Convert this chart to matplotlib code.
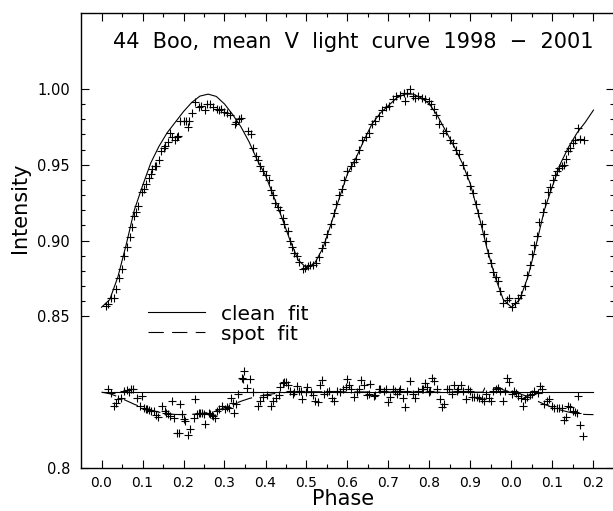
import matplotlib
matplotlib.use("Agg")
import numpy as np
import matplotlib.pyplot as plt
from matplotlib.ticker import FixedLocator, FixedFormatter, NullFormatter
from matplotlib.lines import Line2D

plt.rcParams['font.family'] = ['DejaVu Sans']
plt.rcParams['lines.scale_dashes'] = False

# ---------------- data ----------------
title_text = "44  Boo,  mean  V  light  curve  1998  \u2212  2001"
x_label = "Phase"
y_label = "Intensity"
legend_labels = ["clean  fit", "spot  fit"]

xtick_pos = [0.0, 0.1, 0.2, 0.3, 0.4, 0.5, 0.6, 0.7, 0.8, 0.9, 1.0, 1.1, 1.2]
xtick_labels = ["0.0", "0.1", "0.2", "0.3", "0.4", "0.5", "0.6", "0.7", "0.8", "0.9", "0.0", "0.1", "0.2"]
xminor_pos = [0.05, 0.15, 0.25, 0.35, 0.45, 0.55, 0.65, 0.75, 0.85, 0.95, 1.05, 1.15]
ytick_pos = [0.75, 0.85, 0.90, 0.95, 1.00]
ytick_labels = ["0.8", "0.85", "0.90", "0.95", "1.00"]
yminor_pos = [0.86, 0.87, 0.88, 0.89, 0.91, 0.92, 0.93, 0.94, 0.96, 0.97, 0.98, 0.99]

# clean fit (light curve model)
fit_phase = [0.00, 0.02, 0.04, 0.06, 0.08, 0.10, 0.12, 0.14, 0.16, 0.18, 0.20,
             0.22, 0.24, 0.26, 0.28, 0.30, 0.32, 0.34, 0.36, 0.38, 0.40,
             0.42, 0.44, 0.46, 0.48, 0.50, 0.52, 0.54, 0.56, 0.58, 0.60,
             0.62, 0.64, 0.66, 0.68, 0.70, 0.72, 0.74, 0.76, 0.78, 0.80,
             0.82, 0.84, 0.86, 0.88, 0.90, 0.92, 0.94, 0.96, 0.98, 1.00,
             1.02, 1.04, 1.06, 1.08, 1.10, 1.12, 1.14, 1.16, 1.18, 1.20]
fit_int = [0.856, 0.861, 0.876, 0.897, 0.920, 0.936, 0.951, 0.962, 0.971, 0.978, 0.985,
           0.991, 0.9952, 0.9965, 0.995, 0.990, 0.983, 0.975, 0.965, 0.953, 0.943,
           0.929, 0.915, 0.900, 0.887, 0.882, 0.885, 0.895, 0.911, 0.928, 0.944,
           0.954, 0.966, 0.977, 0.984, 0.989, 0.994, 0.9965, 0.9965, 0.994, 0.990,
           0.982, 0.972, 0.962, 0.951, 0.937, 0.917, 0.895, 0.876, 0.861, 0.856,
           0.861, 0.876, 0.897, 0.920, 0.936, 0.951, 0.962, 0.971, 0.978, 0.986]

# observed mean light curve
obs_phase = [0.011, 0.017, 0.023, 0.031, 0.036, 0.043, 0.049, 0.055, 0.061, 0.069,
             0.075, 0.079, 0.085, 0.090, 0.098, 0.103, 0.109, 0.116, 0.120, 0.124,
             0.130, 0.133, 0.140, 0.146, 0.152, 0.156, 0.162, 0.168, 0.172, 0.179,
             0.184, 0.187, 0.192, 0.200, 0.206, 0.211, 0.214, 0.221, 0.229, 0.237,
             0.243, 0.253, 0.257, 0.265, 0.273, 0.281, 0.287,
             0.292, 0.299, 0.305, 0.313, 0.325, 0.329, 0.335, 0.341, 0.357, 0.365,
             0.369, 0.376, 0.381, 0.387, 0.394, 0.402, 0.408, 0.414, 0.418, 0.424,
             0.430, 0.436, 0.442, 0.446, 0.454, 0.460, 0.465, 0.470, 0.476, 0.482,
             0.491, 0.497, 0.503, 0.508, 0.515, 0.523, 0.531, 0.539, 0.546, 0.551,
             0.559, 0.567, 0.573, 0.579, 0.586, 0.592, 0.600, 0.608, 0.616,
             0.620, 0.628, 0.636, 0.644, 0.652, 0.660, 0.668, 0.676, 0.684, 0.693,
             0.701, 0.711, 0.719, 0.729, 0.737, 0.741, 0.745, 0.753, 0.760, 0.765,
             0.773, 0.781, 0.790, 0.798, 0.803, 0.810, 0.816, 0.824, 0.832, 0.840,
             0.849, 0.857, 0.865, 0.873, 0.881, 0.891, 0.899, 0.907, 0.913, 0.919,
             0.927, 0.933, 0.937, 0.943, 0.949, 0.954,
             0.961, 0.966, 0.971, 0.979, 0.988, 0.993, 1.001, 1.009, 1.016, 1.024,
             1.032, 1.038, 1.044, 1.050, 1.056, 1.063, 1.068, 1.076, 1.082, 1.090,
             1.095, 1.101, 1.105, 1.111, 1.117, 1.122, 1.127, 1.133, 1.139, 1.143,
             1.149, 1.155, 1.161, 1.168, 1.176]
obs_int = [0.857, 0.858, 0.862, 0.862, 0.868, 0.875, 0.881, 0.890, 0.896, 0.902,
           0.909, 0.916, 0.919, 0.923, 0.932, 0.934, 0.937, 0.941, 0.944, 0.947,
           0.949, 0.949, 0.953, 0.959, 0.961, 0.962, 0.965, 0.971, 0.968, 0.966,
           0.968, 0.969, 0.979, 0.979, 0.979, 0.975, 0.979, 0.984, 0.991, 0.988,
           0.989, 0.986, 0.990, 0.990, 0.988, 0.987, 0.986,
           0.987, 0.985, 0.984, 0.983, 0.977, 0.978, 0.980, 0.981, 0.972, 0.970,
           0.961, 0.956, 0.953, 0.949, 0.946, 0.943, 0.940, 0.933, 0.930, 0.925,
           0.922, 0.920, 0.915, 0.911, 0.906, 0.900, 0.896, 0.892, 0.890, 0.886,
           0.881, 0.882, 0.883, 0.884, 0.884, 0.885, 0.889, 0.895, 0.899, 0.904,
           0.911, 0.918, 0.924, 0.930, 0.934, 0.940, 0.946, 0.949, 0.952,
           0.954, 0.960, 0.966, 0.968, 0.971, 0.977, 0.979, 0.982, 0.986, 0.988,
           0.989, 0.993, 0.995, 0.996, 0.997, 0.992, 0.997, 1.000, 0.995, 0.994,
           0.995, 0.994, 0.993, 0.992, 0.990, 0.987, 0.983, 0.977, 0.971, 0.972,
           0.966, 0.964, 0.960, 0.957, 0.950, 0.943, 0.936, 0.931, 0.924, 0.918,
           0.911, 0.904, 0.900, 0.892, 0.885, 0.879,
           0.876, 0.873, 0.867, 0.859, 0.861, 0.862, 0.856, 0.859, 0.862, 0.864,
           0.870, 0.877, 0.884, 0.891, 0.897, 0.903, 0.912, 0.919, 0.925, 0.932,
           0.935, 0.940, 0.943, 0.946, 0.948, 0.949, 0.950, 0.954, 0.959, 0.961,
           0.964, 0.966, 0.974, 0.967, 0.966]

# residuals (observed - clean fit), shown shifted to the 0.80 level
resid_level = 0.80
res_phase = [0.017, 0.022, 0.031, 0.035, 0.041, 0.047, 0.055, 0.063, 0.067, 0.071,
             0.077, 0.087, 0.093, 0.098, 0.103, 0.108, 0.112, 0.116, 0.120, 0.128,
             0.133, 0.138, 0.148, 0.154, 0.158, 0.162, 0.166, 0.171, 0.176, 0.184,
             0.188, 0.192, 0.196, 0.200, 0.204, 0.211, 0.217, 0.225, 0.229, 0.233,
             0.237, 0.241, 0.245, 0.249, 0.253, 0.261, 0.265, 0.269, 0.273, 0.277,
             0.281, 0.287, 0.293, 0.301, 0.305, 0.310, 0.316, 0.320, 0.324, 0.327,
             0.334, 0.342, 0.346, 0.348, 0.354, 0.362, 0.370,
             0.381, 0.387, 0.395, 0.403, 0.414, 0.418, 0.426, 0.432, 0.436, 0.442,
             0.446, 0.450, 0.454, 0.460, 0.466, 0.470, 0.478, 0.482, 0.486, 0.490,
             0.498, 0.502, 0.510, 0.517, 0.521, 0.527, 0.533, 0.539, 0.543, 0.551,
             0.555, 0.561, 0.567, 0.575, 0.582, 0.590, 0.596, 0.598, 0.604, 0.609,
             0.616, 0.622, 0.628, 0.634, 0.640, 0.648, 0.652, 0.656, 0.664, 0.668,
             0.676, 0.680, 0.688, 0.695, 0.700, 0.704, 0.711, 0.717, 0.721, 0.725,
             0.729, 0.735, 0.741, 0.745, 0.753, 0.760, 0.765, 0.773, 0.781, 0.785,
             0.789, 0.793, 0.798, 0.801, 0.806,
             0.812, 0.818, 0.826, 0.830, 0.836, 0.842, 0.848, 0.854, 0.860, 0.866,
             0.870, 0.877, 0.882, 0.888, 0.893, 0.899, 0.904, 0.909, 0.915, 0.920,
             0.927, 0.933, 0.939, 0.944, 0.949, 0.955, 0.961, 0.967, 0.973, 0.979,
             0.985, 0.990, 0.995, 1.001, 1.006, 1.011, 1.017, 1.024, 1.028, 1.033,
             1.038, 1.044, 1.049, 1.056, 1.064, 1.069, 1.075, 1.080, 1.087, 1.092,
             1.098, 1.104, 1.111, 1.117, 1.123, 1.127, 1.132, 1.138, 1.143, 1.149,
             1.154, 1.159, 1.163, 1.168, 1.174]
res_val = [0.0018, -0.0004, -0.0092, -0.0070, -0.0048, -0.0037, 0.0007, 0.0011, 0.0002, 0.0018,
           0.0024, -0.0037, -0.0092, -0.0022, -0.0103, -0.0110, -0.0114, -0.0118, -0.0121, -0.0125,
           -0.0150, -0.0164, -0.0092, -0.0121, -0.0140, -0.0147, -0.0158, -0.0055, -0.0169, -0.0268,
           -0.0268, -0.0081, -0.0147, -0.0180, -0.0191, -0.0285, -0.0246, -0.0169, -0.0048, -0.0143,
           -0.0140, -0.0136, -0.0138, -0.0143, -0.0213, -0.0140, -0.0147, -0.0150, -0.0158, -0.0169,
           -0.0125, -0.0110, -0.0092, -0.0114, -0.0100, -0.0103, -0.0037, -0.0070, -0.0136, -0.0077,
           -0.0015, 0.0094, 0.0090, 0.0138, 0.0029, 0.0090, 0.0002,
           -0.0092, -0.0055, -0.0033, -0.0020, -0.0092, -0.0060, -0.0037, -0.0020, 0.0033, 0.0060,
           0.0065, 0.0070, 0.0046, 0.0010, -0.0010, 0.0000, 0.0040, 0.0010, 0.0007, -0.0048,
           0.0000, 0.0033, 0.0000, -0.0020, -0.0055, -0.0066, 0.0050, 0.0077, -0.0015, 0.0000,
           0.0010, -0.0037, -0.0055, 0.0007, 0.0000, 0.0024, 0.0033, 0.0090, 0.0050, 0.0018,
           -0.0033, 0.0000, 0.0024, 0.0080, 0.0046, -0.0020, -0.0010, 0.0057, -0.0026, -0.0020,
           0.0018, 0.0024, 0.0010, 0.0024, -0.0064, -0.0033, 0.0018, 0.0010, -0.0010, 0.0007,
           0.0018, -0.0037, -0.0099, 0.0010, 0.0072, -0.0010, -0.0037, 0.0007, 0.0018, 0.0024,
           0.0060, 0.0033, 0.0000, 0.0010, 0.0094,
           0.0072, 0.0024, -0.0042, -0.0099, -0.0081, 0.0024, 0.0018, -0.0010, 0.0050, 0.0010,
           0.0024, 0.0046, 0.0010, -0.0048, 0.0018, 0.0010, -0.0033, -0.0030, -0.0033, -0.0040,
           -0.0048, -0.0055, -0.0010, -0.0037, -0.0060, 0.0010, 0.0024, 0.0028, 0.0007, -0.0060,
           0.0010, 0.0094, 0.0068, -0.0010, 0.0010, -0.0004, -0.0026, -0.0037, -0.0092, -0.0048,
           -0.0033, -0.0020, -0.0010, 0.0010, -0.0004, 0.0040, 0.0024, -0.0077, -0.0060, -0.0048,
           -0.0092, -0.0107, -0.0107, -0.0107, -0.0107, -0.0186, -0.0164, -0.0092, -0.0099, -0.0125,
           -0.0129, -0.0136, -0.0026, -0.0217, -0.0290]

# residual curves of the two models (relative to the clean fit)
clean_res_phase = [0.0, 1.2]
clean_res_val = [0.0, 0.0]
spot_res_phase = [0.00, 0.02, 0.04, 0.06, 0.08, 0.10, 0.12, 0.14, 0.16, 0.18, 0.20,
                  0.22, 0.24, 0.26, 0.28, 0.30, 0.32, 0.34, 0.36, 0.38, 0.40,
                  0.42, 0.44, 0.46, 0.50, 0.60, 0.70, 0.80, 0.90, 0.93, 0.935,
                  0.97, 0.98, 1.00, 1.02, 1.04, 1.06, 1.08, 1.10, 1.12, 1.14,
                  1.16, 1.18, 1.20]
spot_res_val = [0.0000, -0.0010, -0.0030, -0.0055, -0.0080, -0.0100, -0.0118, -0.0132, -0.0142, -0.0147, -0.0148,
                -0.0146, -0.0142, -0.0134, -0.0122, -0.0104, -0.0082, -0.0060, -0.0042, -0.0028, -0.0018,
                -0.0010, -0.0004, 0.0000, 0.0003, 0.0002, 0.0001, 0.0000, 0.0000, 0.0000, 0.0028,
                0.0030, 0.0015, 0.0000, -0.0010, -0.0030, -0.0055, -0.0080, -0.0100, -0.0118, -0.0132,
                -0.0142, -0.0147, -0.0148]

# ---------------- figure ----------------
W, H = 613, 511
fig = plt.figure(figsize=(W / 100, H / 100), dpi=100)
ax = fig.add_axes([81 / W, 43 / H, 533 / W, 455 / H])

ax.plot(fit_phase, fit_int, color='black', lw=0.8, solid_joinstyle='round')
ax.plot(obs_phase, obs_int, ls='none', marker='+', ms=5.5, mew=0.8, color='black')

ax.plot(clean_res_phase, np.array(clean_res_val) + resid_level, color='black', lw=0.8)
ax.plot(spot_res_phase, np.array(spot_res_val) + resid_level, color='black', lw=0.8,
        dashes=(11, 6))
ax.plot(res_phase, np.array(res_val) + resid_level, ls='none', marker='+', ms=5.5,
        mew=0.8, color='black')

ax.set_xlim(-0.05, 1.25)
ax.set_ylim(0.75, 1.05)

ax.xaxis.set_major_locator(FixedLocator(xtick_pos))
ax.xaxis.set_major_formatter(FixedFormatter(xtick_labels))
ax.xaxis.set_minor_locator(FixedLocator(xminor_pos))
ax.yaxis.set_major_locator(FixedLocator(ytick_pos))
ax.yaxis.set_major_formatter(FixedFormatter(ytick_labels))
ax.yaxis.set_minor_locator(FixedLocator(yminor_pos))
ax.yaxis.set_minor_formatter(NullFormatter())

ax.tick_params(which='both', direction='in', top=True, right=True, width=0.8, colors='black')
ax.tick_params(which='major', length=6)
ax.tick_params(which='minor', length=3.2)
ax.tick_params(axis='x', labelsize=10, pad=6)
ax.tick_params(axis='y', labelsize=10.5, pad=8)
for sp in ax.spines.values():
    sp.set_linewidth(1.0)

ax.text(1.2, 1.031, title_text, ha='right', va='center', fontsize=15)

ax.set_xlabel(x_label, fontsize=15)
ax.xaxis.set_label_coords((343 - 81) / 533, (468 - 499) / 455)
ax.xaxis.label.set_va('center')
ax.set_ylabel(y_label, fontsize=15)
ax.yaxis.set_label_coords((20 - 81) / 533, (468 - 208) / 455)
ax.yaxis.label.set_va('center')

handles = [Line2D([], [], color='black', lw=0.8),
           Line2D([], [], color='black', lw=0.8, dashes=(11, 6))]
ax.legend(handles, legend_labels, loc='upper left',
          bbox_to_anchor=((148 - 81) / 533, (468 - 304.5) / 455),
          frameon=False, fontsize=14.5, borderpad=0, borderaxespad=0,
          handlelength=2.83, handletextpad=0.8, labelspacing=0.05)

fig.savefig('out.png', dpi=100)
